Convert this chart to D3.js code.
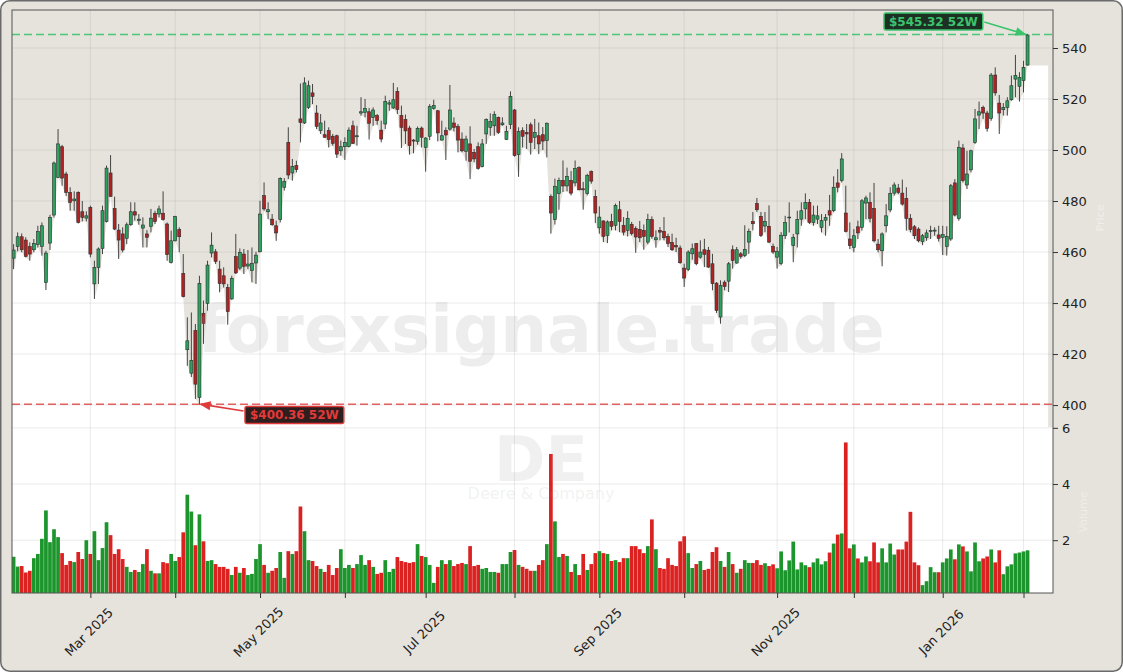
<!DOCTYPE html>
<html>
<head>
<meta charset="UTF-8">
<title>DE - Deere &amp; Company</title>
<script src="https://cdn.jsdelivr.net/npm/d3@7"></script>
<style>
body { margin: 0; background: #ffffff; }
svg { display: block; font-family: "DejaVu Sans", sans-serif; }
</style>
</head>
<body>
<svg id="chart" width="1123" height="672"></svg>
<script>
// daily OHLC (USD) and volume (millions)
const open = [457.6,462.2,466.0,464.7,462.1,460.9,462.9,462.2,448.1,463.5,
474.5,489.3,501.3,490.6,483.4,480.1,483.4,475.8,473.3,477.5,
447.5,454.0,461.4,471.9,491.0,477.1,468.6,467.1,465.4,470.7,
475.8,472.3,469.4,467.1,470.1,475.2,474.9,475.2,471.0,455.9,
464.4,468.8,451.6,421.7,412.5,429.2,403.0,436.0,439.9,459.6,
460.1,453.3,450.7,446.1,441.6,458.2,453.7,459.2,454.5,452.7,
455.7,460.1,482.1,475.8,472.9,470.3,472.7,485.4,503.0,491.0,
493.9,512.2,510.6,516.7,522.4,514.5,507.6,506.0,507.6,505.4,
505.6,499.7,501.3,501.4,509.5,505.2,514.5,514.8,515.0,512.8,
513.5,507.8,510.2,518.0,516.5,523.0,513.5,512.0,508.6,503.9,
503.4,508.6,501.0,505.4,516.3,515.4,503.9,507.6,508.2,510.6,
509.2,504.3,499.5,502.4,499.1,501.3,493.5,506.3,508.9,509.5,
512.8,509.9,504.1,510.0,515.7,498.2,507.6,506.9,509.9,505.0,
505.6,506.0,503.7,481.8,472.7,482.9,488.1,485.9,488.1,487.1,
493.1,484.8,482.9,491.6,481.8,469.5,472.2,466.5,472.0,470.5,
476.6,470.5,468.5,470.8,469.2,468.9,468.5,463.9,472.7,464.8,
468.5,468.1,466.1,463.7,462.6,461.6,453.7,453.1,459.3,463.3,
458.0,460.9,460.7,455.4,447.8,434.5,448.2,448.6,460.9,455.7,
459.3,458.7,463.9,472.0,479.0,474.0,470.2,470.1,462.2,458.0,
455.5,466.4,473.5,462.5,467.1,472.9,476.9,479.5,471.6,472.9,
469.7,472.5,476.2,476.2,487.1,488.0,475.3,465.1,461.8,469.9,
469.7,479.2,479.5,477.1,463.1,460.5,470.3,476.5,483.1,485.1,
483.1,481.0,473.2,469.9,469.0,464.1,465.6,468.0,468.2,466.7,
465.8,462.2,465.1,487.1,473.2,500.8,486.3,492.2,503.0,513.7,
516.7,514.5,512.4,529.4,518.4,515.8,516.7,519.7,527.8,525.0,
527.2,533.3];

const high = [463.1,467.7,467.3,465.8,463.8,465.1,470.3,471.6,460.5,474.6,
495.5,508.2,502.0,491.5,485.4,483.8,483.8,480.0,476.0,478.2,
456.6,461.8,478.2,493.9,498.0,481.7,471.0,469.7,471.6,479.5,
479.5,474.9,473.6,468.6,476.9,476.2,478.2,483.8,471.6,468.4,
474.2,469.7,459.2,434.4,436.3,431.8,450.7,441.0,456.6,467.7,
461.2,456.6,454.0,447.5,450.7,467.1,461.4,461.2,460.8,461.8,
460.1,480.1,487.3,479.5,474.9,472.3,489.3,489.0,508.9,496.5,
495.8,526.1,528.5,527.2,525.9,517.6,514.1,511.5,508.9,506.3,
506.0,503.7,505.0,508.9,511.5,509.5,520.7,520.0,516.5,516.7,
514.1,511.5,521.3,519.6,526.3,524.6,517.4,513.9,509.5,504.3,
509.2,509.2,505.0,518.0,519.7,515.7,511.5,508.9,525.5,512.8,
510.2,506.9,505.6,509.3,500.4,503.0,504.3,512.4,514.4,515.2,
513.1,512.8,509.5,523.0,516.1,508.9,508.9,510.2,510.8,512.2,
510.8,509.0,510.8,482.6,488.8,489.2,495.9,493.1,491.8,495.9,
493.6,487.5,490.7,492.0,484.4,477.9,472.4,472.4,475.0,479.0,
480.0,473.7,476.0,471.8,470.1,472.2,470.8,475.0,474.0,468.5,
469.8,473.7,467.2,467.2,465.6,462.6,455.4,460.7,463.3,463.5,
464.6,465.2,462.0,459.3,448.2,448.9,448.9,456.1,462.6,462.0,
460.0,470.5,469.2,475.7,481.2,475.7,475.7,478.3,463.3,462.0,
467.8,474.2,479.5,467.1,476.2,479.5,483.0,480.8,478.2,478.2,
474.9,474.9,482.4,489.7,492.5,498.8,486.0,471.6,469.0,472.3,
480.8,482.1,483.4,487.1,465.1,467.7,478.8,485.4,487.3,486.7,
488.4,485.4,474.9,470.6,469.7,467.1,468.8,470.3,469.7,470.3,
470.3,470.1,486.7,488.6,503.7,502.4,499.7,500.1,516.1,519.0,
517.4,515.4,530.2,532.4,521.6,518.4,520.7,529.2,537.3,530.5,
535.0,545.32];

const low = [453.3,460.3,459.9,457.9,456.6,459.9,461.8,458.6,445.1,460.8,
473.5,489.0,486.0,482.0,476.2,476.2,471.2,472.0,472.0,457.9,
441.6,447.5,459.2,471.6,481.7,468.6,457.3,459.9,463.1,470.3,
472.3,470.7,461.8,461.8,467.7,471.0,473.6,472.3,456.6,455.5,
464.2,459.9,442.2,415.4,411.0,402.4,400.36,424.0,437.0,457.9,
455.3,444.2,446.1,431.5,441.3,451.4,452.9,451.4,453.3,448.1,
447.5,459.9,476.2,472.9,470.3,464.4,471.6,484.1,488.6,488.0,
491.2,503.0,510.2,516.1,518.0,508.2,506.3,504.8,501.0,501.7,
496.9,497.8,496.1,501.0,502.4,501.7,513.5,512.8,504.1,509.5,
509.9,503.0,508.2,515.4,516.1,514.1,500.8,502.4,498.2,498.7,
502.1,501.0,491.5,503.9,515.8,503.4,503.7,496.1,507.6,507.3,
499.1,499.1,495.8,488.6,495.2,492.3,493.2,502.4,505.6,505.6,
506.3,509.5,503.9,508.2,497.4,489.5,501.0,500.4,498.2,500.4,
498.4,500.0,497.1,467.2,470.8,476.6,483.5,483.8,482.2,485.8,
484.2,476.6,482.2,486.8,471.4,467.2,463.9,463.5,468.5,468.5,
467.8,466.5,466.1,466.5,459.7,463.9,460.9,463.0,465.2,461.7,
464.6,464.6,462.0,460.4,460.0,455.4,446.3,452.5,457.0,454.8,
457.4,454.1,453.8,445.0,436.1,431.9,445.0,444.3,453.5,455.4,
457.4,458.0,459.3,468.5,475.7,465.9,467.8,463.5,459.3,453.5,
454.8,465.1,467.7,456.0,461.8,470.3,472.9,471.0,470.3,471.0,
467.7,466.4,470.3,475.6,483.4,487.3,467.7,461.2,459.9,465.1,
468.4,472.9,471.6,463.8,459.9,454.4,467.7,475.6,482.1,482.7,
478.2,468.4,467.7,465.1,463.8,462.7,464.4,465.1,466.4,464.1,
458.8,458.6,464.4,474.0,472.3,487.3,484.7,491.2,502.4,508.2,
512.2,507.2,511.5,521.3,506.3,513.5,513.5,519.3,520.7,519.0,
522.6,533.1];

const close = [460.8,466.0,460.9,458.3,459.2,463.4,468.0,470.3,459.6,473.6,
494.9,502.4,489.0,483.4,479.5,480.8,471.6,473.6,474.2,459.2,
454.0,461.2,476.2,492.9,481.8,469.0,464.7,460.8,470.7,475.8,
474.5,472.9,470.6,465.8,473.3,472.0,476.9,472.7,459.0,464.4,
473.9,466.0,442.5,425.2,417.5,408.2,447.7,432.0,454.9,462.7,
456.3,447.7,447.5,436.7,449.7,451.8,459.9,454.4,455.3,455.6,
458.8,474.9,476.9,476.6,470.7,467.5,488.9,487.6,490.2,493.5,
492.3,510.8,526.3,525.2,521.0,509.3,510.6,505.0,504.1,502.6,
498.4,501.3,503.0,507.8,502.6,505.6,515.0,516.3,510.5,515.7,
511.5,504.3,519.1,518.5,519.7,515.9,508.9,507.5,501.7,503.5,
508.5,505.0,504.7,517.0,517.4,506.7,505.6,505.9,515.7,508.9,
503.9,499.7,504.3,495.6,496.5,492.8,502.4,511.9,511.2,513.9,
506.9,510.6,507.2,521.0,497.8,507.2,505.4,506.3,503.0,506.9,
502.4,503.5,510.5,475.3,485.8,488.1,485.9,489.7,483.1,492.7,
484.4,484.4,490.1,487.8,475.3,473.7,466.1,471.8,470.1,478.3,
472.0,467.8,473.1,467.2,465.9,465.6,466.1,472.7,466.1,465.6,
467.8,465.6,463.3,460.9,462.0,455.8,449.8,460.0,461.3,455.4,
460.0,459.1,454.1,447.6,437.1,446.9,446.5,455.4,456.7,460.9,
458.3,461.0,468.1,471.1,476.6,466.5,472.0,463.9,460.0,460.3,
466.6,471.6,473.7,465.8,472.7,476.2,479.4,471.6,474.5,474.2,
472.3,473.6,474.5,485.4,485.4,496.5,468.0,462.5,466.4,467.5,
480.1,481.2,473.2,464.4,460.9,467.1,474.2,483.0,486.3,483.4,
478.8,473.2,468.8,466.4,464.4,466.4,467.5,468.4,468.6,465.4,
466.8,466.1,486.0,474.5,501.0,488.0,490.6,499.7,512.2,515.0,
514.5,508.5,529.4,522.4,514.5,516.7,519.3,525.2,529.2,528.5,
532.4,545.1];

const volume = [1.41,1.06,1.08,0.85,0.91,1.36,1.51,2.05,3.06,1.93,
2.39,2.11,1.54,1.12,1.26,1.22,1.58,1.33,2.00,1.51,
2.32,1.29,1.72,2.64,2.18,1.51,1.68,1.33,1.05,0.87,
0.94,0.87,1.15,1.68,0.91,0.82,0.82,1.22,1.18,1.51,
1.26,1.40,2.28,3.62,3.02,1.82,2.92,1.96,1.26,1.29,
1.15,1.05,1.05,0.98,0.76,1.05,0.84,1.01,0.76,0.80,
1.33,1.86,1.12,0.84,0.91,1.01,1.58,0.66,1.61,1.51,
1.61,3.20,2.32,1.29,1.26,1.08,0.98,0.87,1.12,0.76,
1.01,1.68,1.01,1.12,1.01,1.15,1.47,1.12,1.29,1.05,
0.80,0.84,1.29,0.87,0.98,1.40,1.26,1.22,1.19,1.22,
1.86,1.44,1.40,1.12,0.48,1.05,1.29,1.15,1.29,1.08,
1.15,1.19,1.15,1.79,1.08,1.12,0.98,1.01,0.87,0.87,
0.84,1.15,1.15,1.58,1.65,1.12,1.05,0.98,0.91,0.91,
1.12,1.29,1.86,5.07,2.67,1.40,1.51,1.44,0.87,1.15,
0.76,1.51,0.94,1.15,1.54,1.61,1.54,1.51,1.26,1.29,
1.22,1.36,1.36,1.79,1.79,1.68,1.54,1.79,2.74,1.68,
1.01,0.98,1.36,1.12,1.08,1.96,2.14,1.54,1.01,1.15,
1.26,0.94,0.98,1.58,1.75,1.26,1.05,1.58,1.15,0.84,
0.98,1.29,1.19,1.19,1.29,1.12,1.18,1.08,1.14,1.00,
1.60,0.93,1.28,1.95,0.96,1.21,1.11,1.04,1.21,1.35,
1.14,1.25,1.56,1.88,2.20,2.24,5.48,1.71,1.85,1.35,
1.21,1.42,1.25,1.92,1.21,1.71,1.21,1.88,1.49,1.67,
1.67,1.95,3.01,1.21,1.11,0.40,0.54,1.04,0.86,0.86,
1.21,1.35,1.67,1.32,1.85,1.78,1.60,0.89,1.92,1.25,
1.35,1.42,1.67,1.21,1.64,0.79,1.07,1.14,1.53,1.56,
1.60,1.64];

// trading calendar: first session and NYSE holidays in the window
const firstSession = "2025-02-03";
const holidays = ["2025-02-17","2025-04-18","2025-05-26","2025-06-19","2025-07-04",
                  "2025-09-01","2025-11-27","2025-12-25","2026-01-01","2026-01-19"];
const priceTicks = [400, 420, 440, 460, 480, 500, 520, 540];
const volumeTicks = [2, 4, 6];
const ticker = "DE";
const company = "Deere & Company";
const watermark = "forexsignale.trade";

// build the session dates
const fmtDay = d3.utcFormat("%Y-%m-%d");
const dates = [];
let day = new Date(firstSession + "T00:00:00Z");
while (dates.length < close.length) {
  const wd = day.getUTCDay();
  if (wd !== 0 && wd !== 6 && holidays.indexOf(fmtDay(day)) < 0) dates.push(new Date(day));
  day = d3.utcDay.offset(day, 1);
}
// first session of each month -> x ticks
const monthIdx = [];
for (let i = 1; i < dates.length; i++) {
  if (dates[i].getUTCMonth() !== dates[i - 1].getUTCMonth()) monthIdx.push(i);
}
const fmtMonth = d3.utcFormat("%b %Y");

// layout
const W = 1123, H = 672;
const L = 12, R = 1053, PT = 10, PB = 427, VB = 593;
const bg = "#e6e3dd";

const x = d3.scaleLinear().domain([-0.4, 257.3]).range([L, R]);
const yP = d3.scaleLinear().domain([391.4, 554.9]).range([PB, PT]);
const yV = d3.scaleLinear().domain([0.12, 6.03]).range([VB, PB]);

const upC = "#2ca25f", dnC = "#b22222";
const vUp = "#1c962c", vDn = "#dc2121";

const svg = d3.select("#chart");

svg.append("rect")
    .attr("x", 0.75).attr("y", 0.75)
    .attr("width", W - 1.5).attr("height", H - 1.5)
    .attr("rx", 9)
    .attr("fill", bg).attr("stroke", "#6b6b6b").attr("stroke-width", 1.5);

const defs = svg.append("defs");
defs.append("clipPath").attr("id", "clipP")
  .append("rect").attr("x", L).attr("y", PT).attr("width", R - L).attr("height", PB - PT);
defs.append("clipPath").attr("id", "clipV")
  .append("rect").attr("x", L).attr("y", PB).attr("width", R - L).attr("height", VB - PB);
[["arrG", "#3cc46c"], ["arrR", "#e03a3a"]].forEach(function(m) {
  defs.append("marker").attr("id", m[0])
      .attr("viewBox", "0 0 10 10").attr("refX", 9).attr("refY", 5)
      .attr("markerWidth", 7).attr("markerHeight", 7).attr("orient", "auto")
    .append("path").attr("d", "M0,1 L10,5 L0,9 z").attr("fill", m[1]);
});

// price panel: beige background, white area under the lows
const pricePanel = svg.append("g").attr("clip-path", "url(#clipP)");
pricePanel.append("rect").attr("x", L).attr("y", PT).attr("width", R - L).attr("height", PB - PT).attr("fill", bg);

const lowPts = [[-0.4, low[0]]].concat(low.map(function(v, i) { return [i, v]; }), [[256.1, low[low.length - 1]]]);
pricePanel.append("path")
    .datum(lowPts)
    .attr("fill", "#ffffff")
    .attr("d", d3.area().x(function(d) { return x(d[0]); }).y0(PB).y1(function(d) { return yP(d[1]); }));

// volume panel background
const volPanel = svg.append("g").attr("clip-path", "url(#clipV)");
volPanel.append("rect").attr("x", L).attr("y", PB).attr("width", R - L).attr("height", VB - PB).attr("fill", "#ffffff");

// grids
const gridC = "#8a8a8a", gridO = 0.22;
pricePanel.selectAll(".hg").data(priceTicks).enter().append("line")
    .attr("x1", L).attr("x2", R)
    .attr("y1", function(d) { return yP(d); }).attr("y2", function(d) { return yP(d); })
    .attr("stroke", gridC).attr("stroke-opacity", gridO).attr("stroke-width", 0.8);
pricePanel.selectAll(".vg").data(monthIdx).enter().append("line")
    .attr("x1", function(d) { return x(d); }).attr("x2", function(d) { return x(d); })
    .attr("y1", PT).attr("y2", PB)
    .attr("stroke", gridC).attr("stroke-opacity", gridO).attr("stroke-width", 0.8);
volPanel.selectAll(".hg").data(volumeTicks).enter().append("line")
    .attr("x1", L).attr("x2", R)
    .attr("y1", function(d) { return yV(d); }).attr("y2", function(d) { return yV(d); })
    .attr("stroke", gridC).attr("stroke-opacity", gridO).attr("stroke-width", 0.8);
volPanel.selectAll(".vg").data(monthIdx).enter().append("line")
    .attr("x1", function(d) { return x(d); }).attr("x2", function(d) { return x(d); })
    .attr("y1", PB).attr("y2", VB)
    .attr("stroke", gridC).attr("stroke-opacity", gridO).attr("stroke-width", 0.8);

// watermarks
svg.append("text").attr("x", 541).attr("y", 352).attr("text-anchor", "middle")
    .attr("font-size", 66).attr("font-weight", "bold")
    .attr("fill", "#9a9a9a").attr("fill-opacity", 0.18).text(watermark);
svg.append("text").attr("x", 541).attr("y", 481).attr("text-anchor", "middle")
    .attr("font-size", 62).attr("font-weight", "bold")
    .attr("fill", "#9a9a9a").attr("fill-opacity", 0.15).text(ticker);
svg.append("text").attr("x", 541).attr("y", 499).attr("text-anchor", "middle")
    .attr("font-size", 16)
    .attr("fill", "#9a9a9a").attr("fill-opacity", 0.14).text(company);

// volume bars
volPanel.selectAll(".vbar").data(volume).enter().append("rect")
    .attr("x", function(d, i) { return x(i) - 1.85; })
    .attr("width", 3.7)
    .attr("y", function(d) { return yV(d); })
    .attr("height", function(d) { return VB - yV(d); })
    .attr("fill", function(d, i) { return close[i] >= open[i] ? vUp : vDn; });

// 52 week lines
const hiIdx = d3.maxIndex(high), loIdx = d3.minIndex(low);
pricePanel.append("line").attr("x1", L).attr("x2", R)
    .attr("y1", yP(high[hiIdx])).attr("y2", yP(high[hiIdx]))
    .attr("stroke", "#3cc46c").attr("stroke-width", 1.5).attr("stroke-dasharray", "8,4").attr("opacity", 0.9);
pricePanel.append("line").attr("x1", L).attr("x2", R)
    .attr("y1", yP(low[loIdx])).attr("y2", yP(low[loIdx]))
    .attr("stroke", "#e05050").attr("stroke-width", 1.5).attr("stroke-dasharray", "8,4").attr("opacity", 0.9);

// candles
const candles = pricePanel.selectAll(".candle").data(close).enter().append("g");
candles.append("line")
    .attr("x1", function(d, i) { return x(i); }).attr("x2", function(d, i) { return x(i); })
    .attr("y1", function(d, i) { return yP(high[i]); }).attr("y2", function(d, i) { return yP(low[i]); })
    .attr("stroke", "#444").attr("stroke-width", 1);
candles.append("rect")
    .attr("x", function(d, i) { return x(i) - 1.5; })
    .attr("width", 3)
    .attr("y", function(d, i) { return yP(Math.max(open[i], d)); })
    .attr("height", function(d, i) { return Math.max(0.8, Math.abs(yP(open[i]) - yP(d))); })
    .attr("fill", function(d, i) { return d >= open[i] ? upC : dnC; })
    .attr("stroke", "#2b2b2b").attr("stroke-width", 0.6);

// annotations
function label(txt, bx, by, col, fill) {
  const g = svg.append("g");
  const t = g.append("text").attr("x", bx).attr("y", by).attr("dy", "0.36em")
      .attr("font-size", 12).attr("font-weight", "bold").attr("fill", col).text(txt);
  const bb = t.node().getBBox();
  g.insert("rect", "text")
      .attr("x", bb.x - 5).attr("y", by - 8.5)
      .attr("width", bb.width + 10).attr("height", 17).attr("rx", 2)
      .attr("fill", fill).attr("stroke", col).attr("stroke-width", 1.5);
  return { left: bb.x - 5, right: bb.x + bb.width + 5 };
}
const hiTxt = "$" + high[hiIdx].toFixed(2) + " 52W";
const loTxt = "$" + low[loIdx].toFixed(2) + " 52W";
const hiBox = label(hiTxt, 889, 21.5, "#3cc46c", "#1d3024");
svg.append("line").attr("x1", hiBox.right + 1.5).attr("y1", 22).attr("x2", x(hiIdx) - 2).attr("y2", yP(high[hiIdx]))
    .attr("stroke", "#3cc46c").attr("stroke-width", 1.6).attr("marker-end", "url(#arrG)");
const loBox = label(loTxt, 250, 415, "#e03a3a", "#2e1e1e");
svg.append("line").attr("x1", loBox.left - 1.5).attr("y1", 411).attr("x2", x(loIdx) + 1).attr("y2", yP(low[loIdx]))
    .attr("stroke", "#e03a3a").attr("stroke-width", 1.6).attr("marker-end", "url(#arrR)");

// frame
svg.append("rect").attr("x", L).attr("y", PT).attr("width", R - L).attr("height", VB - PT)
    .attr("fill", "none").attr("stroke", "#555").attr("stroke-width", 1);

// axes
function styleAxis(g) {
  g.select(".domain").remove();
  g.selectAll(".tick line").attr("stroke", "#333");
  g.selectAll(".tick text").attr("fill", "#222").attr("font-size", 13).attr("font-family", "DejaVu Sans");
}
svg.append("g").attr("transform", "translate(" + R + ",0)")
    .call(d3.axisRight(yP).tickValues(priceTicks).tickSize(5).tickPadding(4))
    .call(styleAxis);
svg.append("g").attr("transform", "translate(" + R + ",0)")
    .call(d3.axisRight(yV).tickValues(volumeTicks).tickFormat(d3.format("d")).tickSize(5).tickPadding(4))
    .call(styleAxis);
const xg = svg.append("g").attr("transform", "translate(0," + VB + ")")
    .call(d3.axisBottom(x).tickValues(monthIdx).tickSize(5)
      .tickFormat(function(i) { return dates[i].getUTCMonth() % 2 === 0 ? fmtMonth(dates[i]) : ""; }))
    .call(styleAxis);
xg.selectAll(".tick text")
    .attr("y", 0).attr("dy", "0.35em").attr("x", 0)
    .attr("text-anchor", "middle")
    .attr("transform", "translate(-2,39) rotate(-45)");

// faint axis labels on the right
svg.append("text").attr("transform", "translate(1104,218) rotate(-90)")
    .attr("text-anchor", "middle").attr("font-size", 11).attr("fill", "#f0eeea").text("Price");
svg.append("text").attr("transform", "translate(1087,512) rotate(-90)")
    .attr("text-anchor", "middle").attr("font-size", 11).attr("fill", "#efedea").text("Volume");
</script>
</body>
</html>
